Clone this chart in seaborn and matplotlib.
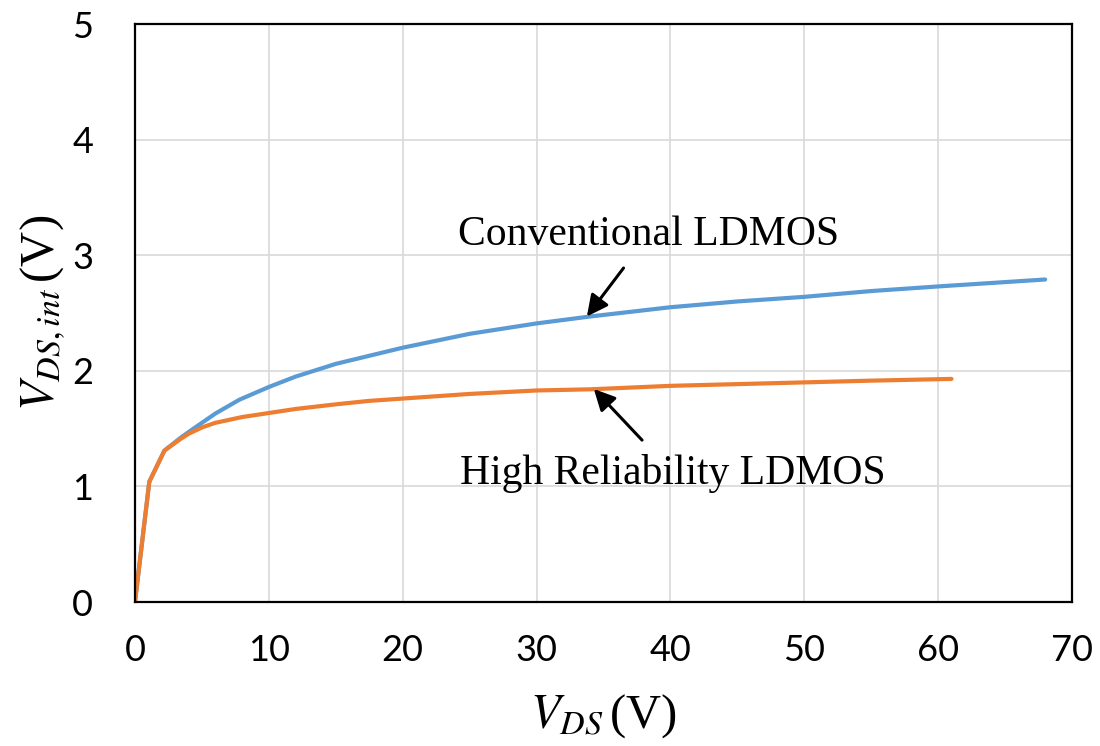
import matplotlib
matplotlib.use("Agg")
import matplotlib.pyplot as plt
import seaborn as sns

# V_DS values (V)
vds_conv = [0, 1.07, 2.2, 3.4, 4, 5, 6, 7.8, 10, 12, 15, 17.5, 20, 25, 30, 34, 40, 45, 50, 55, 60, 64, 68]
vint_conv = [0, 1.04, 1.31, 1.42, 1.47, 1.55, 1.63, 1.75, 1.86, 1.95, 2.06, 2.13, 2.20, 2.32, 2.41, 2.47,
             2.55, 2.60, 2.64, 2.69, 2.73, 2.76, 2.79]

vds_hr = [0, 1.07, 2.2, 3.4, 4, 5, 6, 8, 10, 12, 15, 17.5, 20, 25, 30, 34, 40, 45, 50, 55, 61]
vint_hr = [0, 1.04, 1.31, 1.41, 1.455, 1.51, 1.55, 1.60, 1.635, 1.67, 1.71, 1.74, 1.76, 1.80, 1.83, 1.84,
           1.87, 1.885, 1.90, 1.915, 1.93]

x_ticks = [0, 10, 20, 30, 40, 50, 60, 70]
y_ticks = [0, 1, 2, 3, 4, 5]

sns.set_theme(style="white")
plt.rcParams["font.family"] = ["Lato", "DejaVu Sans"]
plt.rcParams["mathtext.fontset"] = "stix"
plt.rcParams["text.color"] = "black"
plt.rcParams["axes.labelcolor"] = "black"

fig = plt.figure(figsize=(11, 7.46), dpi=100)
ax = fig.add_axes([0.1227, 0.193, 0.8518, 0.7748])

sns.lineplot(x=vds_conv, y=vint_conv, ax=ax, color="#5B9BD5", lw=3, sort=False, estimator=None)
sns.lineplot(x=vds_hr, y=vint_hr, ax=ax, color="#ED7D31", lw=3, sort=False, estimator=None)

ax.set_xlim(0, 70)
ax.set_ylim(0, 5)
ax.set_xticks(x_ticks)
ax.set_yticks(y_ticks)
ax.grid(True, color="#D9D9D9", lw=1.2)
ax.set_axisbelow(True)
for sp in ax.spines.values():
    sp.set_color("black")
    sp.set_linewidth(1.6)
ax.tick_params(axis="both", length=0, labelsize=26, colors="black")
ax.tick_params(axis="x", pad=23)
ax.tick_params(axis="y", pad=30)

serif = ["Liberation Serif", "DejaVu Serif"]
ax.set_xlabel(r"$V_{DS}\,$(V)", fontsize=35, family=serif, labelpad=18)
ax.set_ylabel(r"$V_{DS,int}\,$(V)", fontsize=35, family=serif, labelpad=3)

arrow = dict(arrowstyle="-|>", color="black", lw=2.2, mutation_scale=32, shrinkA=10, shrinkB=0)
ax.annotate("Conventional LDMOS", xy=(33.76, 2.47), xytext=(38.4, 3.18),
            fontsize=30, family=serif, ha="center", va="center", color="black",
            arrowprops=arrow)
ax.annotate("High Reliability LDMOS", xy=(34.28, 1.843), xytext=(40.2, 1.116),
            fontsize=30, family=serif, ha="center", va="center", color="black",
            arrowprops=arrow)

fig.savefig("out.png", dpi=100)
